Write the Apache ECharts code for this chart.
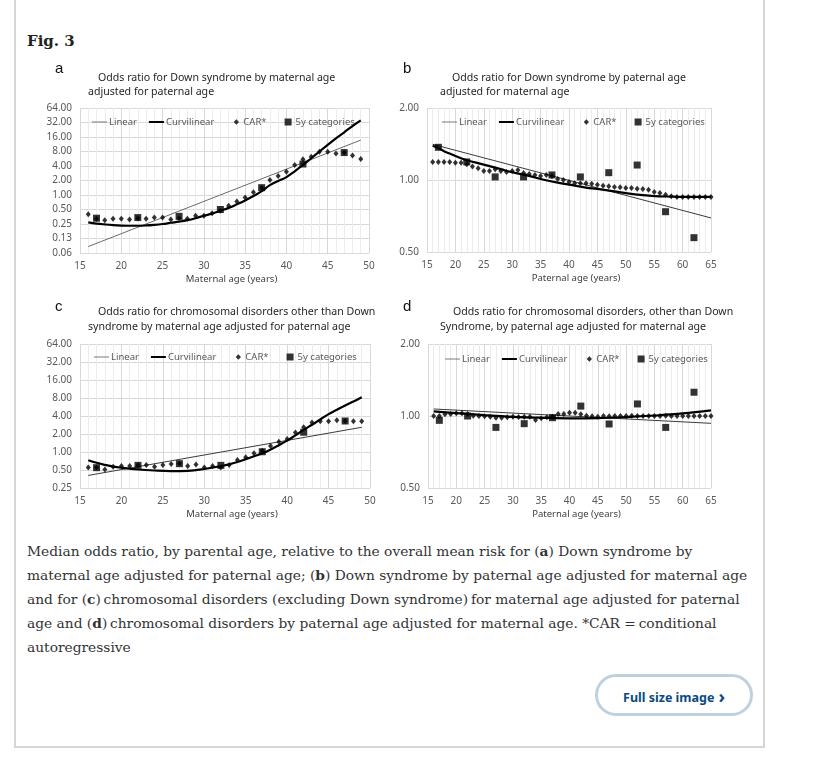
<!DOCTYPE html>
<html><head><meta charset="utf-8">
<script src="https://cdn.jsdelivr.net/npm/echarts@6/dist/echarts.min.js"></script>
<style>
html,body{margin:0;padding:0;background:#fff;width:821px;height:760px;overflow:hidden;}
#frame{position:absolute;left:14px;top:-10px;width:747px;height:756px;border-left:2px solid #d6d6d6;border-right:2px solid #d6d6d6;border-bottom:2px solid #d6d6d6;}
#fig{position:absolute;left:27px;top:32px;font:bold 15px 'DejaVu Serif',serif;line-height:18px;color:#222;}
#chart{position:absolute;left:0;top:0;width:821px;height:530px;}
#cap{position:absolute;left:27px;top:539px;font-family:'DejaVu Serif',serif;font-size:12.5px;color:#333;line-height:24px;white-space:nowrap;}
#btn{position:absolute;left:595px;top:674px;width:152px;height:36px;border:3px solid #bed1dc;border-radius:21px;text-align:center;font:bold 12.5px 'Noto Sans',sans-serif;color:#0a4a80;line-height:36px;}
#btn .chev{font-size:18px;margin-left:4px;position:relative;top:1px;}
</style></head>
<body>
<div id="frame"></div>
<div id="fig">Fig. 3</div>
<div id="chart"></div>
<div id="cap"><span id="l1">Median odds ratio, by parental age, relative to the overall mean risk for (<b>a</b>) Down syndrome by</span><br>maternal age adjusted for paternal age; (<b>b</b>) Down syndrome by paternal age adjusted for maternal age<br>and for (<b>c</b>)&#8201;chromosomal disorders (excluding Down syndrome)&#8201;for maternal age adjusted for paternal<br>age and (<b>d</b>)&#8201;chromosomal disorders by paternal age adjusted for maternal age. *CAR =&#8201;conditional<br>autoregressive</div>
<div id="btn">Full size image<span class="chev">&#8250;</span></div>
<script>
// ---------- data ----------
const xTicksMat = [15, 50];      // maternal axis range (ticks every 5)
const xTicksPat = [15, 65];      // paternal axis range
const yTicksA = [0.0625, 64];    // tick labels 0.06 ... 64.00 (doubling)
const yTicksB = [0.5, 2];
const yTicksC = [0.25, 64];
const yTicksD = [0.5, 2];

// Panel a: Down syndrome by maternal age
const ageA = [16,17,18,19,20,21,22,23,24,25,26,27,28,29,30,31,32,33,34,35,36,37,38,39,40,41,42,43,44,45,46,47,48,49];
const carA = [0.40,0.32,0.30,0.32,0.32,0.31,0.33,0.32,0.34,0.34,0.31,0.33,0.32,0.37,0.37,0.42,0.47,0.60,0.73,0.89,1.14,1.42,2.05,2.48,3.05,4.2,5.5,6.2,7.9,7.9,7.3,7.6,6.6,5.6];
const curvA = [0.27,0.255,0.245,0.237,0.232,0.23,0.23,0.233,0.24,0.25,0.265,0.28,0.30,0.33,0.37,0.41,0.47,0.54,0.64,0.77,0.95,1.2,1.6,1.95,2.35,3.1,4.2,5.8,8.0,11,15,20,27,35.5];
const linAgeA = [16, 49];
const linA = [0.085, 13.8];
const catAgeA = [17,22,27,32,37,42,47];
const catA = [0.33,0.34,0.36,0.50,1.42,4.4,7.6];

// Panel b: Down syndrome by paternal age
const ageB = [16,17,18,19,20,21,22,23,24,25,26,27,28,29,30,31,32,33,34,35,36,37,38,39,40,41,42,43,44,45,46,47,48,49,50,51,52,53,54,55,56,57,58,59,60,61,62,63,64,65];
const carB = [1.19,1.19,1.19,1.19,1.18,1.18,1.165,1.14,1.12,1.09,1.09,1.11,1.09,1.08,1.09,1.10,1.07,1.06,1.05,1.04,1.05,1.04,1.01,1.00,0.98,0.97,0.97,0.97,0.965,0.956,0.947,0.941,0.935,0.932,0.926,0.926,0.92,0.917,0.911,0.89,0.882,0.868,0.855,0.85,0.85,0.85,0.85,0.85,0.85,0.85];
const curvAgeB = [16,17,18,19,20,22,25,28,30,33,35,38,40,43,45,48,50,53,55,58,60,65];
const curvB = [1.39,1.36,1.32,1.29,1.26,1.21,1.16,1.11,1.077,1.04,1.01,0.975,0.956,0.93,0.917,0.896,0.882,0.865,0.857,0.852,0.85,0.85];
const linAgeB = [16, 65];
const linB = [1.41, 0.694];
const catAgeB = [17,22,27,32,37,42,47,52,57,62];
const catB = [1.37,1.19,1.03,1.03,1.05,1.03,1.073,1.155,0.737,0.574];

// Panel c: other chromosomal disorders by maternal age
const ageC = ageA;
const carC = [0.553,0.55,0.512,0.568,0.583,0.583,0.60,0.605,0.568,0.605,0.63,0.64,0.583,0.62,0.553,0.583,0.553,0.605,0.734,0.814,0.95,1.05,1.26,1.49,1.65,2.11,2.59,3.1,3.26,3.26,3.39,3.3,3.26,3.26];
const curvAgeC = [16,17,18,19,20,22,24,26,28,30,32,33,34,35,36,37,38,39,40,41,42,43,44,45,46,47,48,49];
const curvC = [0.73,0.66,0.61,0.57,0.545,0.51,0.49,0.48,0.485,0.52,0.58,0.62,0.68,0.76,0.85,0.95,1.1,1.3,1.55,1.9,2.35,2.85,3.5,4.3,5.1,6.0,7.0,8.2];
const linAgeC = [16, 49];
const linC = [0.406, 2.59];
const catAgeC = [17,22,27,32,37,42,47];
const catC = [0.547,0.598,0.638,0.598,1.01,2.14,3.3];

// Panel d: other chromosomal disorders by paternal age
const ageD = ageB;
const carD = [1.0,1.0,1.016,1.02,1.026,1.026,1.02,1.003,1.0,0.997,0.994,0.984,0.984,0.987,0.994,0.99,0.994,0.994,0.962,0.978,0.987,0.994,1.02,1.02,1.033,1.033,1.016,1.003,0.997,0.994,1.0,0.997,1.0,1.0,1.0,1.003,1.0,1.0,1.0,1.0,1.0,1.003,1.0,1.0,1.0,1.0,1.0,1.0,1.0,1.0];
const curvAgeD = [16,20,25,30,35,40,45,50,55,60,65];
const curvD = [1.045,1.028,1.008,0.992,0.983,0.978,0.98,0.99,1.005,1.025,1.055];
const linAgeD = [16, 65];
const linD = [1.07, 0.932];
const catAgeD = [17,22,27,32,37,42,47,52,57,62];
const catD = [0.959,1.0,0.896,0.929,0.984,1.10,0.926,1.123,0.896,1.257];

const legendNames = ['Linear','Curvilinear','CAR*','5y categories'];
const titles = [
  ['Odds ratio for Down syndrome by maternal age','adjusted for paternal age'],
  ['Odds ratio for Down syndrome by paternal age','adjusted for maternal age'],
  ['Odds ratio for chromosomal disorders other than Down','syndrome by maternal age adjusted for paternal age'],
  ['Odds ratio for chromosomal disorders, other than Down','Syndrome, by paternal age adjusted for maternal age']
];
const panelLetters = ['a','b','c','d'];
const axisNames = ['Maternal age (years)','Paternal age (years)','Maternal age (years)','Paternal age (years)'];

// ---------- chart ----------
const FONT = "'Noto Sans', sans-serif";
const LBL = '#595959';
const log2 = v => Math.log(v) / Math.LN2;
const pairs = (xs, ys) => xs.map((x, i) => [x, log2(ys[i])]);

const grids = [
  {left: 80, top: 108, width: 289, height: 145},
  {left: 427, top: 108, width: 284, height: 144},
  {left: 80, top: 344, width: 290, height: 144},
  {left: 428, top: 344, width: 283, height: 144}
];
const xRanges = [xTicksMat, xTicksPat, xTicksMat, xTicksPat];
const yRanges = [yTicksA, yTicksB, yTicksC, yTicksD];
const panels = [
  {car:[ageA,carA], curv:[ageA,curvA], lin:[linAgeA,linA], cat:[catAgeA,catA]},
  {car:[ageB,carB], curv:[curvAgeB,curvB], lin:[linAgeB,linB], cat:[catAgeB,catB]},
  {car:[ageC,carC], curv:[curvAgeC,curvC], lin:[linAgeC,linC], cat:[catAgeC,catC]},
  {car:[ageD,carD], curv:[curvAgeD,curvD], lin:[linAgeD,linD], cat:[catAgeD,catD]}
];

const xAxis = [], yAxis = [], series = [], legend = [], graphic = [];
const legendPos = [[92, 117], [442, 117], [94, 352], [445, 354]];
const titlePos = [[[98,79],[88,93]], [[452,79],[440,93]], [[98,313],[88,328]], [[453,313],[440,328]]];
const letterPos = [[55,71],[403,71],[55,309],[403,309]];

const ICON_LIN = 'path://M0,0M15,8M0,3.55L15,3.55L15,4.45L0,4.45Z';
const ICON_CUR = 'path://M0,0M15,8M0,3L15,3L15,5L0,5Z';
const ICON_CAR = 'path://M0,0M15,8M10,1.3L12.6,4L10,6.7L7.4,4Z';
const ICON_CAT = 'path://M0,0M15,8M6,0.5L13,0.5L13,7.5L6,7.5Z';

grids.forEach((g, i) => {
  xAxis.push({
    type: 'value', gridIndex: i, min: xRanges[i][0], max: xRanges[i][1], interval: 5,
    axisLine: {show: false}, axisTick: {show: false},
    axisLabel: {color: LBL, fontSize: 10, fontFamily: FONT, margin: 8},
    splitLine: {show: true, lineStyle: {color: '#d9d9d9', width: 1}},
    minorTick: {show: false, splitNumber: 5},
    minorSplitLine: {show: true, lineStyle: {color: '#ececec', width: 1}},
    name: axisNames[i], nameLocation: 'middle', nameGap: 21,
    nameTextStyle: {color: '#404040', fontSize: 9.5, fontFamily: FONT, padding: [0, 0, 0, 14]}
  });
  yAxis.push({
    type: 'value', gridIndex: i, min: Math.round(log2(yRanges[i][0])), max: Math.round(log2(yRanges[i][1])), interval: 1,
    axisLine: {show: false}, axisTick: {show: false},
    axisLabel: {color: LBL, fontSize: 10, fontFamily: FONT, margin: 8, formatter: v => Math.pow(2, v).toFixed(2)},
    splitLine: {show: true, lineStyle: {color: '#d9d9d9', width: 1}}
  });
  const p = panels[i];
  const linCol = i === 0 ? '#6a6a6a' : '#3a3a3a';
  series.push({name: 'Linear', type: 'line', xAxisIndex: i, yAxisIndex: i, data: pairs(p.lin[0], p.lin[1]),
    symbol: 'none', lineStyle: {color: linCol, width: 1}, itemStyle: {color: linCol}, z: 3, silent: true});
  series.push({name: 'Curvilinear', type: 'line', xAxisIndex: i, yAxisIndex: i, data: pairs(p.curv[0], p.curv[1]),
    symbol: 'none', smooth: 0.4, lineStyle: {color: '#000', width: 2.2}, itemStyle: {color: '#000'}, z: 4, silent: true});
  series.push({name: 'CAR*', type: 'scatter', xAxisIndex: i, yAxisIndex: i, data: pairs(p.car[0], p.car[1]),
    symbol: 'diamond', symbolSize: [5, 6], itemStyle: {color: '#000'}, z: 5, silent: true});
  series.push({name: '5y categories', type: 'scatter', xAxisIndex: i, yAxisIndex: i, data: pairs(p.cat[0], p.cat[1]),
    symbol: 'rect', symbolSize: 7, itemStyle: {color: '#000'}, z: 6, silent: true});
  legend.push({
    left: legendPos[i][0], top: legendPos[i][1], padding: 0, itemWidth: 15, itemHeight: 8, itemGap: 12,
    selectedMode: false,
    textStyle: {color: LBL, fontSize: 9.5, fontFamily: FONT, padding: [0, 0, 0, -3]},
    data: [
      {name: 'Linear', icon: ICON_LIN},
      {name: 'Curvilinear', icon: ICON_CUR},
      {name: 'CAR*', icon: ICON_CAR},
      {name: '5y categories', icon: ICON_CAT}
    ]
  });
  titles[i].forEach((t, k) => {
    graphic.push({type: 'text', left: titlePos[i][k][0], top: titlePos[i][k][1] - 7, silent: true,
      style: {text: t, fontSize: 10.6, fontFamily: FONT, fill: '#262626'}});
  });
  graphic.push({type: 'text', left: letterPos[i][0], top: letterPos[i][1] - 10, silent: true,
    style: {text: panelLetters[i], fontSize: 15, fontFamily: "'Liberation Sans', Arial, sans-serif", fill: '#111'}});
});

const chart = echarts.init(document.getElementById('chart'), null, {renderer: 'canvas'});
chart.setOption({
  animation: false,
  backgroundColor: 'transparent',
  grid: grids,
  xAxis, yAxis, series, legend, graphic
});

// fit caption font so the first line spans its measured width
(function(){
  const cap = document.getElementById('cap');
  const l1 = document.getElementById('l1');
  const target = 666;
  const w = l1.getBoundingClientRect().width;
  const fs = 12.5 * target / w;
  cap.style.fontSize = fs.toFixed(2) + 'px';
})();
</script>
</body></html>
